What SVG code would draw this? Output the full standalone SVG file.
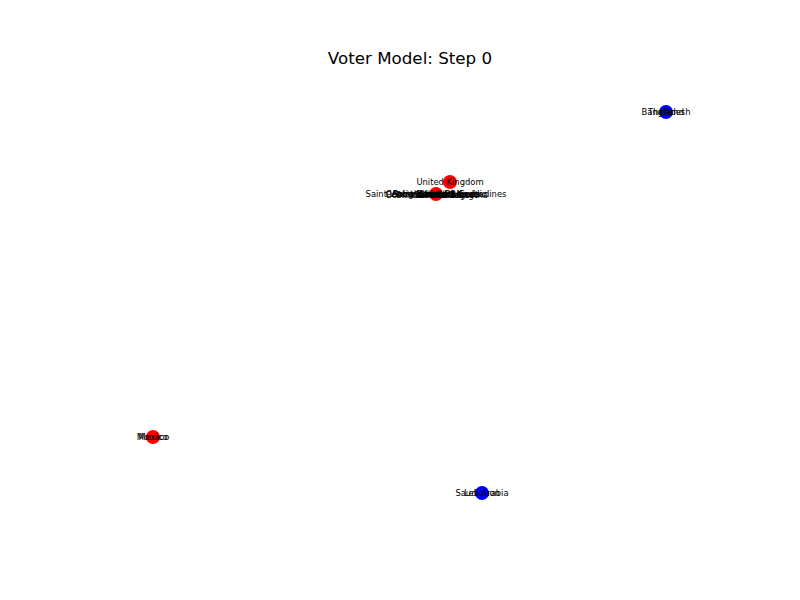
<svg xmlns="http://www.w3.org/2000/svg" width="800" height="600" viewBox="0 0 800 600">
<style>
.lbl{font-family:"DejaVu Sans",sans-serif;font-size:8.4px;fill:#000;text-anchor:middle;dominant-baseline:central}
.title{font-family:"DejaVu Sans",sans-serif;font-size:16.7px;fill:#000;text-anchor:middle}
.r{fill:#ff0000}
.b{fill:#0000ff}
</style>
<rect width="800" height="600" fill="#fff"/>
<text class="title" x="410" y="64">Voter Model: Step 0</text>
<g id="connectors"></g>
<g id="node-bangladesh">
<circle class="b" cx="666" cy="112" r="7"/>
<text class="lbl" x="666" y="112">Bangladesh</text>
<text class="lbl" x="666" y="112">Thailand</text>
</g>
<g id="node-uk">
<circle class="r" cx="450" cy="182" r="7"/>
<text class="lbl" x="450" y="182">United Kingdom</text>
</g>
<g id="node-cluster">
<circle class="r" cx="436" cy="194" r="7"/>
<text class="lbl" x="436" y="194">Saint Vincent and the Grenadines</text>
<text class="lbl" x="436" y="194">Saint Kitts and Nevis</text>
<text class="lbl" x="436" y="194">Antigua and Barbuda</text>
<text class="lbl" x="437" y="195">Trinidad and Tobago</text>
<text class="lbl" x="437" y="195">Bosnia and Herzegovina</text>
<text class="lbl" x="436" y="194">Central African Republic</text>
<text class="lbl" x="437" y="195">Saint Lucia</text>
<text class="lbl" x="436" y="194">Barbados</text>
<text class="lbl" x="437" y="195">Grenada</text>
</g>
<g id="node-mexico">
<circle class="r" cx="153" cy="437" r="7"/>
<text class="lbl" x="153" y="437">Mexico</text>
<text class="lbl" x="153" y="437">Monaco</text>
</g>
<g id="node-saudi">
<circle class="b" cx="482" cy="493" r="7"/>
<text class="lbl" x="482" y="493">Saudi Arabia</text>
<text class="lbl" x="482" y="493">Lebanon</text>
</g>
</svg>
